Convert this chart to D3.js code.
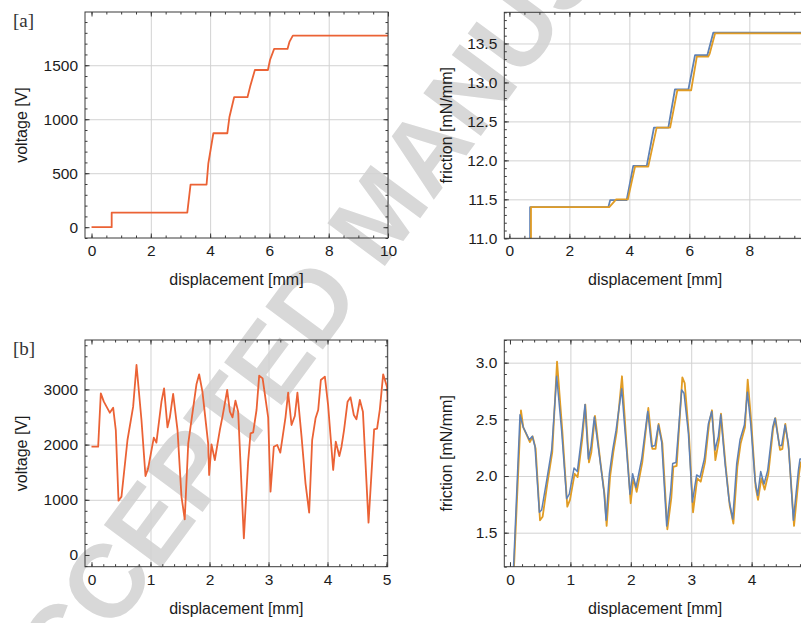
<!DOCTYPE html>
<html>
<head>
<meta charset="utf-8">
<script src="https://cdn.jsdelivr.net/npm/d3@7"></script>
<style>
    html, body { margin: 0; padding: 0; background: #fff; }
    svg { display: block; }
</style>
</head>
<body>
<div id="chart"></div>
<script>
'use strict';

// [a] left: voltage vs displacement (step run)
const stepDisp = [0, 0.68, 0.68, 3.23, 3.34, 3.88, 3.94, 4.11, 4.58, 4.65, 4.81, 5.26, 5.35, 5.51, 5.95, 6.02, 6.16, 6.61, 6.68, 6.79, 10];
const stepVoltage = [0, 0, 135, 135, 395, 395, 592, 870, 870, 1018, 1204, 1204, 1302, 1456, 1456, 1549, 1651, 1651, 1719, 1774, 1774];

// [a] right: friction, two series
const stepDispBlue = [0.69, 0.69, 3.30, 3.36, 3.91, 4.13, 4.58, 4.82, 5.30, 5.52, 5.97, 6.19, 6.60, 6.80, 10];
const stepFrictionBlue = [10.5, 11.40, 11.40, 11.49, 11.49, 11.93, 11.93, 12.42, 12.42, 12.91, 12.91, 13.35, 13.35, 13.64, 13.64];
const stepDispOrange = [0.72, 0.72, 3.33, 3.56, 3.95, 4.19, 4.63, 4.91, 5.36, 5.60, 6.06, 6.25, 6.63, 6.68, 6.86, 10];
const stepFrictionOrange = [10.5, 11.40, 11.40, 11.50, 11.50, 11.92, 11.92, 12.42, 12.42, 12.90, 12.90, 13.33, 13.33, 13.37, 13.63, 13.63];

// [b] left: oscillating voltage
const oscDisp = [0, 0.113, 0.158, 0.209, 0.31, 0.367, 0.412, 0.458, 0.508, 0.61, 0.706, 0.763, 0.847, 0.915, 0.96,
    1.056, 1.1, 1.186, 1.23, 1.288, 1.328, 1.384, 1.458, 1.525, 1.58, 1.64, 1.695, 1.78, 1.825, 1.88, 1.977, 1.994,
    2.034, 2.09, 2.175, 2.22, 2.3, 2.345, 2.39, 2.44, 2.486, 2.582, 2.655, 2.695, 2.74, 2.797, 2.842, 2.9, 2.994,
    3.034, 3.09, 3.147, 3.2, 3.288, 3.333, 3.39, 3.446, 3.49, 3.56, 3.627, 3.689, 3.74, 3.797, 3.842, 3.887, 3.955,
    4.01, 4.096, 4.14, 4.2, 4.237, 4.28, 4.34, 4.39, 4.446, 4.49, 4.548, 4.6, 4.695, 4.79, 4.84, 4.887, 4.943, 5.01, 5.04];
const oscVoltage = [1962, 1962, 2929, 2778, 2578, 2669, 2264, 984, 1057, 2083, 2687, 3442, 2446, 1431, 1570,
    2126, 2035, 2778, 3019, 2313, 2494, 2917, 2264, 1057, 646, 2023, 2446, 3098, 3273, 2959, 2023, 1449,
    2005, 1721, 2264, 2506, 2989, 2597, 2494, 2796, 2597, 302, 1691, 2204, 2222, 2627, 3249, 3200, 2494,
    1147, 1962, 1993, 1854, 2494, 2941, 2355, 2518, 2941, 2144, 1298, 767, 2083, 2476, 2627, 3170, 3231,
    2717, 1540, 2053, 1793, 1962, 2264, 2778, 2856, 2536, 2458, 2808, 2597, 586, 2276, 2288, 2639, 3273, 3037, 2300];

// [b] right: friction, two series
const oscDispBlue = [0, 0.166, 0.22, 0.32, 0.37, 0.414, 0.486, 0.524, 0.607, 0.69, 0.773, 0.855, 0.938, 0.982,
    1.06, 1.115, 1.187, 1.242, 1.297, 1.341, 1.396, 1.49, 1.556, 1.59, 1.645, 1.7, 1.755, 1.849, 1.904, 1.987,
    2.03, 2.086, 2.18, 2.28, 2.345, 2.4, 2.456, 2.511, 2.594, 2.66, 2.693, 2.748, 2.842, 2.881, 2.953,
    3.019, 3.09, 3.146, 3.217, 3.284, 3.339, 3.394, 3.449, 3.488, 3.56, 3.626, 3.687, 3.753, 3.808, 3.88, 3.93, 3.985,
    4.057, 4.1, 4.15, 4.205, 4.266, 4.349, 4.387, 4.459, 4.497, 4.553, 4.608, 4.691, 4.774, 4.8, 4.9];
const oscFrictionBlue = [0.45, 2.54, 2.43, 2.32, 2.35, 2.26, 1.68, 1.70, 1.96, 2.23, 2.88, 2.40, 1.80, 1.84,
    2.07, 2.04, 2.35, 2.63, 2.15, 2.26, 2.52, 2.14, 1.86, 1.61, 2.02, 2.23, 2.40, 2.77, 2.40, 1.84,
    2.02, 1.90, 2.15, 2.57, 2.26, 2.27, 2.45, 2.30, 1.56, 1.87, 2.11, 2.12, 2.76, 2.73, 2.38,
    1.77, 2.01, 1.99, 2.15, 2.46, 2.57, 2.23, 2.35, 2.54, 2.11, 1.79, 1.62, 2.11, 2.32, 2.45, 2.74, 2.46,
    1.96, 1.83, 2.04, 1.93, 2.05, 2.43, 2.51, 2.27, 2.27, 2.45, 2.29, 1.61, 2.05, 2.15, 2.15];
const oscDispOrange = [0, 0.182, 0.22, 0.33, 0.375, 0.425, 0.497, 0.54, 0.618, 0.70, 0.779, 0.866, 0.949, 0.993,
    1.07, 1.12, 1.197, 1.247, 1.308, 1.347, 1.407, 1.50, 1.567, 1.60, 1.656, 1.711, 1.766, 1.854, 1.915, 1.998,
    2.042, 2.097, 2.19, 2.29, 2.357, 2.41, 2.461, 2.522, 2.605, 2.671, 2.704, 2.759, 2.853, 2.892, 2.964,
    3.03, 3.10, 3.157, 3.228, 3.295, 3.344, 3.40, 3.46, 3.493, 3.57, 3.637, 3.698, 3.764, 3.819, 3.89, 3.935, 3.996,
    4.067, 4.106, 4.161, 4.216, 4.277, 4.354, 4.393, 4.47, 4.509, 4.558, 4.614, 4.702, 4.785, 4.812, 4.9];
const oscFrictionOrange = [0.40, 2.58, 2.43, 2.30, 2.35, 2.24, 1.61, 1.64, 1.93, 2.21, 3.01, 2.40, 1.73, 1.79,
    2.02, 1.99, 2.33, 2.63, 2.12, 2.21, 2.53, 2.11, 1.83, 1.56, 1.99, 2.21, 2.39, 2.88, 2.39, 1.76,
    1.98, 1.86, 2.12, 2.60, 2.24, 2.24, 2.46, 2.29, 1.53, 1.81, 2.08, 2.09, 2.87, 2.82, 2.35,
    1.68, 1.98, 1.95, 2.12, 2.46, 2.58, 2.14, 2.32, 2.55, 2.09, 1.74, 1.58, 2.08, 2.29, 2.43, 2.85, 2.46,
    1.90, 1.79, 1.98, 1.88, 2.02, 2.41, 2.51, 2.23, 2.24, 2.46, 2.24, 1.56, 2.02, 2.12, 2.13];

// ticks
const stepDispTicks = [0, 2, 4, 6, 8, 10];
const stepVoltageTicks = [0, 500, 1000, 1500];
const stepFrictionTicks = [11.0, 11.5, 12.0, 12.5, 13.0, 13.5];
const oscDispTicks = [0, 1, 2, 3, 4, 5];
const oscVoltageTicks = [0, 1000, 2000, 3000];
const oscFrictionTicks = [1.5, 2.0, 2.5, 3.0];

const palette = {
    voltage: '#eb6235',
    blue: '#5e81b5',
    orange: '#e19c24',
    grid: '#d2d2d2',
    frame: '#3a3a3a',
    ink: '#1c1c1c',
    watermark: '#d8d8d8'
};

const width = 801;
const height = 623;
const sans = "'Liberation Sans', Arial, Helvetica, sans-serif";

const svg = d3.select('#chart').append('svg')
    .attr('width', width)
    .attr('height', height);

svg.append('rect')
    .attr('width', width)
    .attr('height', height)
    .attr('fill', '#fff');

// "accepted manuscript" stamp sitting behind the panels
svg.append('text')
    .attr('transform', 'translate(378,212) rotate(-53.5)')
    .attr('text-anchor', 'middle')
    .attr('dy', '0.36em')
    .style('font-family', sans)
    .style('font-weight', 'bold')
    .style('font-size', '104px')
    .style('fill', palette.watermark)
    .text('ACCEPTED MANUSCRIPT');

function stepTicks(domain, step) {
    let lo = Math.ceil(domain[0] / step - 1e-9);
    let hi = Math.floor(domain[1] / step + 1e-9);
    return d3.range(lo, hi + 1).map(i => +(i * step).toFixed(6));
}

function drawPanel(cfg) {
    let { box } = cfg;
    let x = d3.scaleLinear().domain(cfg.xDomain).range([box.left, box.right]);
    let y = d3.scaleLinear().domain(cfg.yDomain).range([box.bottom, box.top]);
    let innerW = box.right - box.left;
    let innerH = box.bottom - box.top;

    // only the ticks that fall inside the frame
    let xTicks = cfg.xTicks.filter(d => d >= cfg.xDomain[0] && d <= cfg.xDomain[1]);
    let yTicks = cfg.yTicks.filter(d => d >= cfg.yDomain[0] && d <= cfg.yDomain[1]);

    let g = svg.append('g').classed('panel ' + cfg.id, true);

    // grid lines at the major ticks
    g.append('g')
        .attr('transform', `translate(0,${box.bottom})`)
        .call(d3.axisBottom(x).tickValues(xTicks.filter(d => d !== 0)).tickSize(-innerH).tickFormat(''))
        .call(a => a.select('.domain').remove())
        .selectAll('.tick line').attr('stroke', palette.grid);

    g.append('g')
        .attr('transform', `translate(${box.left},0)`)
        .call(d3.axisLeft(y).tickValues(yTicks.filter(d => d !== 0)).tickSize(-innerW).tickFormat(''))
        .call(a => a.select('.domain').remove())
        .selectAll('.tick line').attr('stroke', palette.grid);

    // data
    let clipId = 'clip-' + cfg.id;
    g.append('clipPath').attr('id', clipId)
        .append('rect')
        .attr('x', box.left).attr('y', box.top)
        .attr('width', innerW).attr('height', innerH);

    let line = d3.line().x(d => x(d[0])).y(d => y(d[1]));

    cfg.series.forEach(s => {
        g.append('path')
            .datum(d3.zip(s.xs, s.ys))
            .attr('clip-path', `url(#${clipId})`)
            .attr('fill', 'none')
            .attr('stroke', s.colour)
            .attr('stroke-width', s.width)
            .attr('stroke-linejoin', 'round')
            .attr('d', line);
    });

    // inward tick marks on all four sides
    let xMinor = stepTicks(cfg.xDomain, cfg.xMinor);
    let yMinor = stepTicks(cfg.yDomain, cfg.yMinor);
    let sides = [
        [() => d3.axisBottom(x), `translate(0,${box.bottom})`, xMinor, xTicks],
        [() => d3.axisTop(x), `translate(0,${box.top})`, xMinor, xTicks],
        [() => d3.axisLeft(y), `translate(${box.left},0)`, yMinor, yTicks],
        [() => d3.axisRight(y), `translate(${box.right},0)`, yMinor, yTicks]
    ];
    sides.forEach(([makeAxis, tr, minor, major]) => {
        [[minor, 2.5], [major, 4.5]].forEach(([vals, len]) => {
            g.append('g').attr('transform', tr)
                .call(makeAxis().tickValues(vals).tickSize(-len).tickFormat(''))
                .call(a => a.select('.domain').remove())
                .selectAll('.tick line').attr('stroke', palette.frame);
        });
    });

    g.append('rect')
        .attr('x', box.left).attr('y', box.top)
        .attr('width', innerW).attr('height', innerH)
        .attr('fill', 'none')
        .attr('stroke', palette.frame)
        .attr('stroke-width', 1);

    // tick labels
    let xLabels = g.append('g')
        .attr('transform', `translate(0,${box.bottom})`)
        .call(d3.axisBottom(x).tickValues(xTicks).tickSize(0).tickPadding(7).tickFormat(d3.format('d')));
    let yLabels = g.append('g')
        .attr('transform', `translate(${box.left},0)`)
        .call(d3.axisLeft(y).tickValues(yTicks).tickSize(0).tickPadding(7).tickFormat(cfg.yFormat));

    [xLabels, yLabels].forEach(a => {
        a.select('.domain').remove();
        a.attr('font-family', null).attr('font-size', null);
        a.selectAll('text')
            .style('font-family', sans)
            .style('font-size', '15.5px')
            .style('fill', palette.ink);
    });

    // axis titles
    g.append('text')
        .attr('x', (box.left + box.right) / 2)
        .attr('y', box.bottom + 47)
        .attr('text-anchor', 'middle')
        .style('font-family', sans)
        .style('font-size', '16px')
        .style('fill', palette.ink)
        .text('displacement [mm]');

    g.append('text')
        .attr('transform', `translate(${cfg.yTitleX},${(box.top + box.bottom) / 2}) rotate(-90)`)
        .attr('text-anchor', 'middle')
        .style('font-family', sans)
        .style('font-size', '16px')
        .style('fill', palette.ink)
        .text(cfg.yTitle);

    if (cfg.tag) {
        g.append('text')
            .attr('x', 13)
            .attr('y', box.top + 15)
            .style('font-family', "'Liberation Serif', 'DejaVu Serif', serif")
            .style('font-size', '19px')
            .style('fill', '#333')
            .text(cfg.tag);
    }
}

drawPanel({
    id: 'a-voltage',
    tag: '[a]',
    box: { left: 85, right: 388, top: 12, bottom: 238 },
    xDomain: [-0.22, 10], yDomain: [-100, 1993],
    xTicks: stepDispTicks, yTicks: stepVoltageTicks,
    xMinor: 0.5, yMinor: 100,
    yFormat: d3.format('d'),
    yTitle: 'voltage [V]', yTitleX: 27,
    series: [{ xs: stepDisp, ys: stepVoltage, colour: palette.voltage, width: 1.8 }]
});

drawPanel({
    id: 'a-friction',
    box: { left: 504.3, right: 806, top: 12.3, bottom: 238.3 },
    xDomain: [-0.17, 9.89], yDomain: [11, 13.9],
    xTicks: stepDispTicks, yTicks: stepFrictionTicks,
    xMinor: 0.5, yMinor: 0.1,
    yFormat: d3.format('.1f'),
    yTitle: 'friction [mN/mm]', yTitleX: 452,
    series: [
        { xs: stepDispBlue, ys: stepFrictionBlue, colour: palette.blue, width: 1.8 },
        { xs: stepDispOrange, ys: stepFrictionOrange, colour: palette.orange, width: 1.8 }
    ]
});

drawPanel({
    id: 'b-voltage',
    tag: '[b]',
    box: { left: 85, right: 387.7, top: 340, bottom: 566.7 },
    xDomain: [-0.11, 5.02], yDomain: [-212, 3895],
    xTicks: oscDispTicks, yTicks: oscVoltageTicks,
    xMinor: 0.2, yMinor: 200,
    yFormat: d3.format('d'),
    yTitle: 'voltage [V]', yTitleX: 27,
    series: [{ xs: oscDisp, ys: oscVoltage, colour: palette.voltage, width: 1.8 }]
});

drawPanel({
    id: 'b-friction',
    box: { left: 504.3, right: 806, top: 340, bottom: 566.7 },
    xDomain: [-0.094, 4.9], yDomain: [1.2, 3.2],
    xTicks: oscDispTicks, yTicks: oscFrictionTicks,
    xMinor: 0.2, yMinor: 0.1,
    yFormat: d3.format('.1f'),
    yTitle: 'friction [mN/mm]', yTitleX: 452,
    series: [
        { xs: oscDispOrange, ys: oscFrictionOrange, colour: palette.orange, width: 1.8 },
        { xs: oscDispBlue, ys: oscFrictionBlue, colour: palette.blue, width: 1.5 }
    ]
});
</script>
</body>
</html>
